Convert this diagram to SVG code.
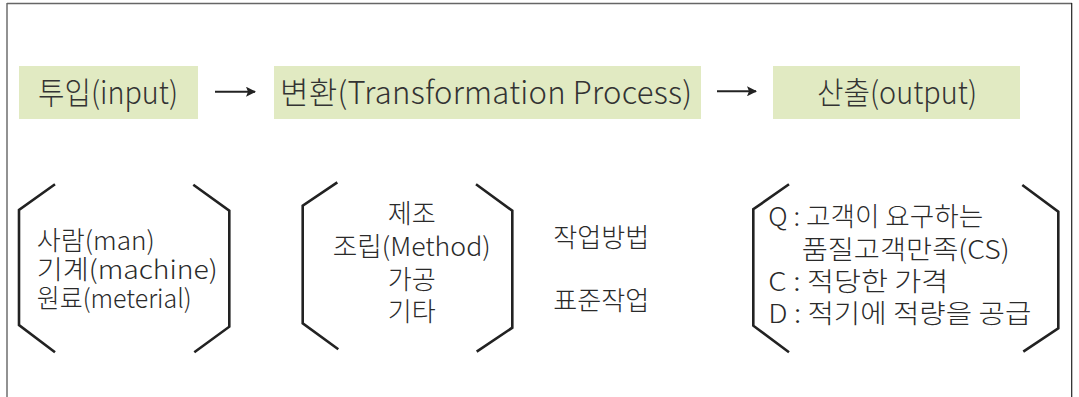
<svg xmlns="http://www.w3.org/2000/svg" width="1079" height="397" viewBox="0 0 1079 397">
<style>
.box{fill:#e1eac2}
.t{font-family:"Noto Sans CJK KR","Noto Sans",sans-serif;fill:#2a2a2a;font-weight:300}
.top{font-size:31px;fill:#333}
.bt{font-size:26px}
.br{fill:none;stroke:#222;stroke-width:2.6;stroke-linejoin:miter}
.ar{stroke:#222;stroke-width:2}
</style>
<defs>
<marker id="ah" markerWidth="10" markerHeight="10" refX="9" refY="5" orient="auto" markerUnits="userSpaceOnUse">
<path d="M0,0 L10,5 L0,10 L2,5 Z" fill="#222"/>
</marker>
</defs>
<rect width="1079" height="397" fill="#fff"/>
<g id="frame">
<line x1="7" y1="3" x2="7" y2="397" stroke="#777" stroke-width="1.6"/>
<line x1="7" y1="3.5" x2="1072" y2="3.5" stroke="#666" stroke-width="1.4"/>
<line x1="1071.7" y1="3" x2="1071.7" y2="397" stroke="#222" stroke-width="1.2"/>
</g>
<g id="input">
<rect class="box" x="19" y="66" width="179" height="53"/>
<text class="t top" x="38" y="104" textLength="140" lengthAdjust="spacingAndGlyphs">투입(input)</text>
</g>
<g id="transform">
<rect class="box" x="274" y="66" width="427" height="53"/>
<text class="t top" x="280" y="104" textLength="412" lengthAdjust="spacing">변환(Transformation Process)</text>
</g>
<g id="output">
<rect class="box" x="773" y="66" width="247" height="53"/>
<text class="t top" x="817" y="104" textLength="160" lengthAdjust="spacingAndGlyphs">산출(output)</text>
</g>
<g id="connectors">
<line class="ar" x1="215" y1="91.7" x2="255" y2="91.7" marker-end="url(#ah)"/>
<line class="ar" x1="717" y1="91.3" x2="756" y2="91.3" marker-end="url(#ah)"/>
</g>
<g id="resources">
<path class="br" d="M55,184.3 L19,210 L19,325 L55,352.3"/>
<path class="br" d="M193.3,184.7 L229.3,210.7 L229.3,326.7 L194.3,352.3"/>
<text class="t bt" x="36.7" y="250" textLength="118" lengthAdjust="spacingAndGlyphs">사람(man)</text>
<text class="t bt" x="36.7" y="279" textLength="181" lengthAdjust="spacingAndGlyphs">기계(machine)</text>
<text class="t bt" x="36.7" y="308" textLength="155" lengthAdjust="spacingAndGlyphs">원료(meterial)</text>
</g>
<g id="process">
<path class="br" d="M337.3,182.3 L302.7,205.7 L302.7,323.3 L338.3,349.3"/>
<path class="br" d="M476,184.3 L512.3,210.7 L512.3,327.7 L476.7,351.7"/>
<text class="t bt" x="411.7" y="223" text-anchor="middle" textLength="48" lengthAdjust="spacingAndGlyphs">제조</text>
<text class="t bt" x="411.7" y="256" text-anchor="middle" textLength="158" lengthAdjust="spacingAndGlyphs">조립(Method)</text>
<text class="t bt" x="411.7" y="289" text-anchor="middle" textLength="48" lengthAdjust="spacingAndGlyphs">가공</text>
<text class="t bt" x="411.7" y="321" text-anchor="middle" textLength="48" lengthAdjust="spacingAndGlyphs">기타</text>
</g>
<g id="method">
<text class="t bt" x="553.3" y="247" textLength="96" lengthAdjust="spacingAndGlyphs">작업방법</text>
<text class="t bt" x="553.3" y="310" textLength="96" lengthAdjust="spacingAndGlyphs">표준작업</text>
</g>
<g id="result">
<path class="br" d="M789,184.3 L753.3,209.3 L753.3,325.7 L789,352.3"/>
<path class="br" d="M1022.3,185 L1058.3,211.7 L1058.3,328.3 L1023.3,351.7"/>
<text class="t bt" x="768.3" y="226" textLength="215" lengthAdjust="spacingAndGlyphs">Q : 고객이 요구하는</text>
<text class="t bt" x="801.7" y="259" textLength="208" lengthAdjust="spacingAndGlyphs">품질고객만족(CS)</text>
<text class="t bt" x="768.3" y="291" textLength="180" lengthAdjust="spacingAndGlyphs">C : 적당한 가격</text>
<text class="t bt" x="768.3" y="323" textLength="263" lengthAdjust="spacingAndGlyphs">D : 적기에 적량을 공급</text>
</g>
</svg>
